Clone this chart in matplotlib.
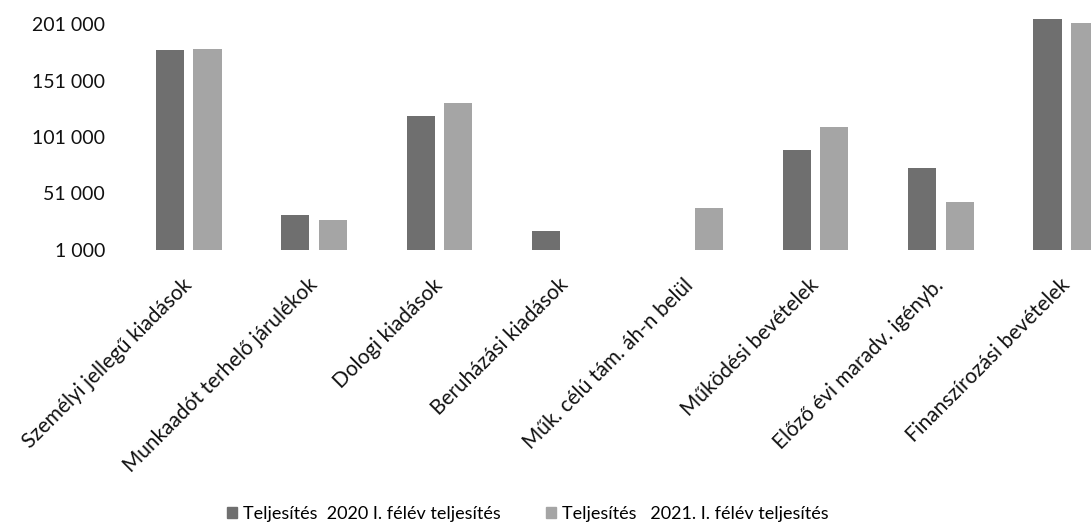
import matplotlib
matplotlib.use("Agg")
import matplotlib.pyplot as plt
import numpy as np
from matplotlib.patches import Patch

categories = ["Személyi jellegű kiadások", "Munkaadót terhelő járulékok", "Dologi kiadások",
              "Beruházási kiadások", "Műk. célú tám. áh-n belül", "Működési bevételek",
              "Előző évi maradv. igényb.", "Finanszírozási bevételek"]
series_2020 = [178000, 32000, 119500, 17800, np.nan, 89500, 73500, 205500]
series_2021 = [179000, 27500, 131000, np.nan, 38000, 110000, 43500, 202000]
series_names = ["Teljesítés  2020 I. félév teljesítés", "Teljesítés   2021. I. félév teljesítés"]
yticks = [1000, 51000, 101000, 151000, 201000]
ytick_labels = ["1 000", "51 000", "101 000", "151 000", "201 000"]

plt.rcParams['font.family'] = ['Lato', 'DejaVu Sans']

W, H = 1091, 530
fig = plt.figure(figsize=(W/100, H/100), dpi=100)
ax = fig.add_axes([126/W, 280/H, 1003/W, 248.6/H])

x = np.arange(len(categories))
c1, c2 = '#6f6f6f', '#a5a5a5'
bw = 0.225
ax.bar(x - 0.15, series_2020, width=bw, color=c1)
ax.bar(x + 0.15, series_2021, width=bw, color=c2)

ax.set_xlim(-0.5, len(categories) - 0.5)
ax.set_ylim(1000, 221000)
ax.set_yticks(yticks)
ax.set_yticklabels(ytick_labels, fontsize=14, color='#111111')
ax.tick_params(axis='y', length=0, pad=15)
ax.set_xticks(x)
ax.set_xticklabels(categories, rotation=45, ha='right', va='center',
                   rotation_mode='anchor', fontsize=15, color='#111111')
ax.tick_params(axis='x', length=0, pad=23)
for s in ax.spines.values():
    s.set_visible(False)

handles = [Patch(color=c1), Patch(color=c2)]
fig.legend(handles, series_names, loc='center', bbox_to_anchor=(528/W, 1 - 514/H),
           ncol=2, frameon=False, fontsize=13, handlelength=0.55, handleheight=0.55,
           handletextpad=0.33, columnspacing=2.5, borderpad=0, borderaxespad=0)

fig.savefig("out.png", dpi=100)
